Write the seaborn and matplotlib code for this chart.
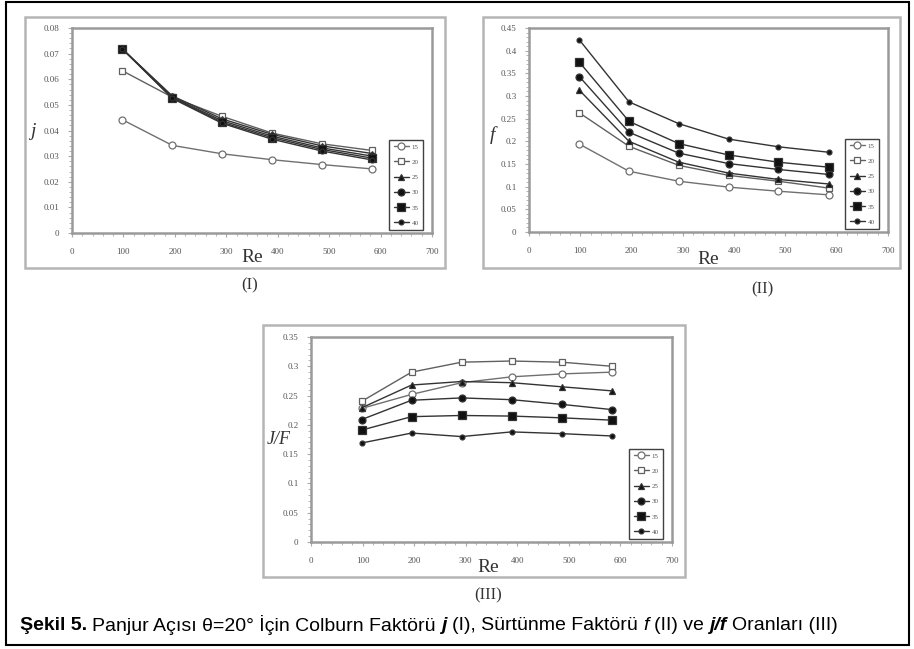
import seaborn as sns
import matplotlib
matplotlib.use('agg')
import matplotlib.pyplot as plt
from matplotlib.patches import Rectangle
from matplotlib.ticker import AutoMinorLocator, MultipleLocator

# Reynolds numbers and louver angles
re_vals = [98, 195, 292, 389, 486, 584]
angles = ['15', '20', '25', '30', '35', '40']

# (I) Colburn factor j, one row per angle
j_vals = [
    [0.0442, 0.0342, 0.0309, 0.0286, 0.0267, 0.0250],
    [0.0633, 0.0530, 0.0455, 0.0390, 0.0348, 0.0322],
    [0.0718, 0.0535, 0.0445, 0.0385, 0.0340, 0.0310],
    [0.0718, 0.0530, 0.0438, 0.0378, 0.0332, 0.0300],
    [0.0718, 0.0528, 0.0432, 0.0372, 0.0326, 0.0292],
    [0.0718, 0.0525, 0.0428, 0.0366, 0.0320, 0.0285],
]

# (II) friction factor f
f_vals = [
    [0.194, 0.134, 0.112, 0.099, 0.090, 0.082],
    [0.263, 0.189, 0.147, 0.125, 0.112, 0.097],
    [0.313, 0.200, 0.154, 0.130, 0.116, 0.106],
    [0.343, 0.220, 0.174, 0.151, 0.138, 0.127],
    [0.375, 0.244, 0.195, 0.170, 0.154, 0.143],
    [0.424, 0.287, 0.239, 0.205, 0.188, 0.176],
]

# (III) j/f ratio
jf_vals = [
    [0.228, 0.252, 0.272, 0.282, 0.287, 0.290],
    [0.240, 0.290, 0.307, 0.309, 0.307, 0.300],
    [0.229, 0.268, 0.274, 0.272, 0.265, 0.258],
    [0.209, 0.242, 0.246, 0.243, 0.235, 0.226],
    [0.191, 0.214, 0.216, 0.215, 0.212, 0.208],
    [0.169, 0.186, 0.180, 0.188, 0.185, 0.181],
]

# marker, face colour, edge/line colour, marker size
styles = [
    ('o', 'white', '#707070', 5),
    ('s', 'white', '#606060', 5),
    ('^', '#111111', '#333333', 5),
    ('o', '#111111', '#333333', 5),
    ('s', '#111111', '#333333', 6),
    ('o', '#111111', '#333333', 3.5),
]

sns.set_style("white")
plt.rcParams['font.family'] = ['Liberation Serif', 'DejaVu Serif']

W, H = 914, 649
fig = plt.figure(figsize=(W / 100, H / 100), dpi=100)


def fbox(l, t, r, b):
    return [l / W, 1 - b / H, (r - l) / W, (b - t) / H]


def frame(l, t, r, b, color, lw):
    x, y, w, h = fbox(l, t, r, b)
    fig.add_artist(Rectangle((x, y), w, h, transform=fig.transFigure,
                             fill=False, edgecolor=color, linewidth=lw))


def panel(box, values, ymax, ystep, ylabel, ylab_xy, ylab_size, tag, tag_xy, re_xy):
    ax = fig.add_axes(fbox(*box))
    for vals, name, (m, fc, ec, ms) in zip(values, angles, styles):
        sns.lineplot(x=re_vals, y=vals, ax=ax, marker=m, markersize=ms,
                     markerfacecolor=fc, markeredgecolor=ec, markeredgewidth=0.9,
                     color=ec, linewidth=1.0, label=name)
    ax.set_xlim(0, 700)
    ax.set_ylim(0, ymax)
    ax.xaxis.set_major_locator(MultipleLocator(100))
    ax.yaxis.set_major_locator(MultipleLocator(ystep))
    ax.xaxis.set_minor_locator(AutoMinorLocator(5))
    ax.yaxis.set_minor_locator(AutoMinorLocator(5))
    ax.yaxis.set_major_formatter(plt.FuncFormatter(lambda v, p: '0' if v == 0 else f'{v:g}'))
    ax.tick_params(which='both', direction='out', color='#aaaaaa', labelsize=6.5,
                   labelcolor='#555555', bottom=True, left=True)
    ax.tick_params(which='major', length=3, width=0.8)
    ax.tick_params(which='minor', length=2, width=0.6)
    ax.tick_params(axis='x', pad=8)
    ax.tick_params(axis='y', pad=6)
    for s in ax.spines.values():
        s.set_color('#9a9a9a')
        s.set_linewidth(1.8)
    ax.set_xlabel('')
    ax.set_ylabel('')
    w_px = box[2] - box[0]
    h_px = box[3] - box[1]
    leg = ax.legend(loc='lower right', bbox_to_anchor=(1 - 9 / w_px, 3 / h_px),
                    borderaxespad=0, fontsize=5, frameon=True, fancybox=False,
                    edgecolor='#111111', labelspacing=1.35, handlelength=2.2,
                    handletextpad=0.4, borderpad=0.6, labelcolor='#555555')
    leg.get_frame().set_linewidth(1.0)
    fig.text(re_xy[0] / W, 1 - re_xy[1] / H, 'Re', fontsize=14, color='#333333',
             ha='center', va='center')
    fig.text(ylab_xy[0] / W, 1 - ylab_xy[1] / H, ylabel, fontsize=ylab_size,
             style='italic', color='#333333', ha='center', va='center')
    fig.text(tag_xy[0] / W, 1 - tag_xy[1] / H, tag, fontsize=12, color='#333333',
             ha='center', va='center')
    return ax


# panel frames and the outer border
frame(6, 2, 909, 645, 'black', 1.5)
frame(25, 17, 445, 268, '#b5b5b5', 1.8)
frame(483, 17, 900, 268, '#b5b5b5', 1.8)
frame(263, 325, 685, 577, '#b5b5b5', 1.8)

panel((72, 28, 432, 233), j_vals, 0.08, 0.01, 'j', (33, 132), 14, '(I)', (250, 285), (252, 257))
panel((529, 28, 888, 232), f_vals, 0.45, 0.05, 'f', (492, 135), 14, '(II)', (762, 289), (708, 260))
panel((311, 337, 672, 542), jf_vals, 0.35, 0.05, 'J/F', (279, 439), 13, '(III)', (488, 595), (488, 568))

# caption with mixed bold / italic pieces
renderer = fig.canvas.get_renderer()
cap_font = ['Liberation Sans', 'DejaVu Sans']
cap_size = 14
parts = [
    ('Şekil 5.', dict(weight='bold')),
    ('Panjur Açısı θ=20° İçin Colburn Faktörü', {}),
    ('j', dict(weight='bold', style='italic')),
    ('(I), Sürtünme Faktörü', {}),
    ('f', dict(style='italic')),
    ('(II) ve', {}),
    ('j/f', dict(weight='bold', style='italic')),
    ('Oranları (III)', {}),
]
probe = fig.text(0, 0, 'x x', fontsize=cap_size, family=cap_font)
probe2 = fig.text(0, 0, 'xx', fontsize=cap_size, family=cap_font)
gap = probe.get_window_extent(renderer).width - probe2.get_window_extent(renderer).width
probe.remove()
probe2.remove()

x = 20
for txt, kw in parts:
    t = fig.text(x / W, 1 - 625 / H, txt, fontsize=cap_size, family=cap_font,
                 color='black', va='center', ha='left', **kw)
    x += t.get_window_extent(renderer).width + gap

fig.savefig('out.png', dpi=100)
